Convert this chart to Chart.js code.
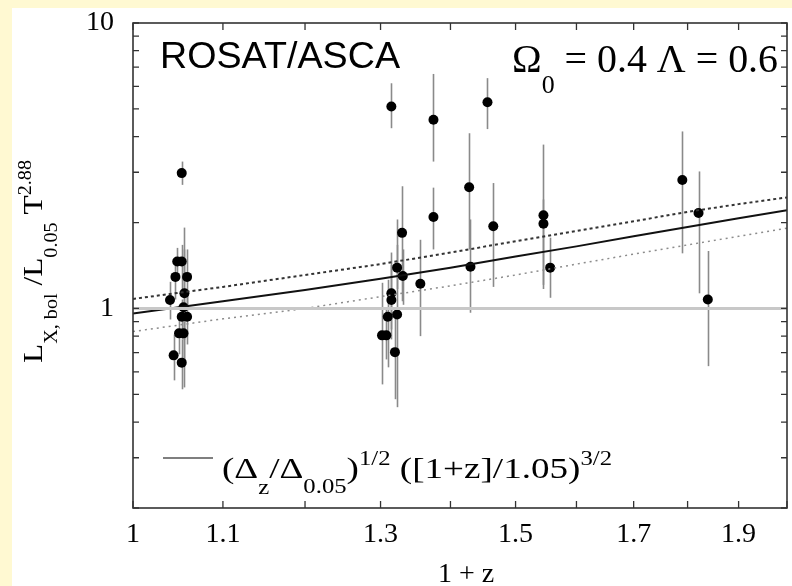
<!DOCTYPE html>
<html>
<head>
<meta charset="utf-8">
<script src="https://cdn.jsdelivr.net/npm/chart.js@4"></script>
<style>
  html, body { margin: 0; padding: 0; background: #FFF9D2; overflow: hidden; }
  #wrap { position: absolute; left: 0; top: 0; width: 792px; height: 586px; }
</style>
</head>
<body>
<div id="wrap"><canvas id="c" width="792" height="586"></canvas></div>
<script>
// ---- data ----
const pointZ = [1.053, 1.048, 1.053, 1.046, 1.059, 1.040, 1.056, 1.055, 1.053, 1.059, 1.050, 1.055, 1.044, 1.053,
                1.315, 1.375, 1.375, 1.330, 1.323, 1.331, 1.356, 1.315, 1.315, 1.310, 1.323, 1.302, 1.308, 1.320,
                1.456, 1.428, 1.465, 1.430, 1.545, 1.545, 1.556, 1.790, 1.821, 1.839];
const pointL = [2.98, 1.46, 1.46, 1.29, 1.29, 1.07, 1.13, 1.01, 0.935, 0.935, 0.818, 0.818, 0.685, 0.646,
                5.10, 4.58, 2.09, 1.84, 1.39, 1.30, 1.22, 1.13, 1.07, 0.935, 0.953, 0.805, 0.805, 0.703,
                5.28, 2.66, 1.94, 1.40, 2.12, 1.98, 1.39, 2.82, 2.16, 1.075];
const errLow  = [2.71, 1.29, 1.17, 1.075, 0.99, 0.915, 0.779, 0.529, 0.779, 0.748, 0.691, 0.637, 0.56, 0.521,
                 4.28, 3.27, 1.61, 1.06, 1.17, 1.03, 0.80, 0.845, 0.779, 0.622, 0.451, 0.542, 0.663, 0.481,
                 4.25, 1.61, 1.19, 0.966, 1.17, 1.21, 1.09, 1.56, 1.13, 0.628];
const errHigh = [3.27, 1.63, 1.67, 1.46, 1.61, 1.24, 1.61, 1.92, 1.075, 1.13, 0.953, 0.99, 0.811, 0.779,
                 6.15, 6.63, 2.65, 2.68, 1.67, 1.61, 1.74, 1.57, 1.42, 1.26, 2.05, 1.23, 1.0, 0.935,
                 6.41, 4.11, 2.75, 2.05, 3.75, 2.41, 1.77, 4.17, 3.02, 1.59];

const curveZ   = [1.0, 1.1, 1.2, 1.3, 1.4, 1.5, 1.6, 1.7, 1.8, 1.9, 2.0];
const fitMid   = [0.96, 1.06, 1.16, 1.27, 1.39, 1.52, 1.65, 1.79, 1.93, 2.07, 2.21];
const fitUpper = [1.08, 1.19, 1.31, 1.43, 1.57, 1.72, 1.87, 2.02, 2.18, 2.32, 2.45];
const fitLower = [0.83, 0.92, 1.00, 1.10, 1.20, 1.31, 1.43, 1.55, 1.67, 1.79, 1.91];
const refZ = [1.0, 2.0];
const refL = [1, 1];

const xTickValues = [1.0, 1.1, 1.2, 1.3, 1.4, 1.5, 1.6, 1.7, 1.8, 1.9, 2.0];
const xTickLabels = ['1', '1.1', '', '1.3', '', '1.5', '', '1.7', '', '1.9', ''];
const yTickValues = [0.2, 0.3, 0.4, 0.5, 0.6, 0.7, 0.8, 0.9, 1, 2, 3, 4, 5, 6, 7, 8, 9, 10];
const yTickLabels = ['', '', '', '', '', '', '', '', '1', '', '', '', '', '', '', '', '', '10'];

const pts = (xs, ys) => xs.map((x, i) => ({ x: x, y: ys[i] }));

const SERIF = "'Liberation Serif', 'DejaVu Serif', serif";
const SANS = "'Liberation Sans', Arial, sans-serif";

function drawRich(ctx, x, y, segs, targetW) {
  let widths = [], total = 0;
  segs.forEach(s => {
    ctx.font = s[1] + 'px ' + (s[3] || SERIF);
    const w = ctx.measureText(s[0]).width;
    widths.push(w); total += w;
  });
  const sx = targetW ? targetW / total : 1;
  ctx.save();
  ctx.translate(x, y);
  ctx.scale(sx, 1);
  ctx.textBaseline = 'alphabetic';
  ctx.textAlign = 'left';
  let cx = 0;
  segs.forEach((s, i) => {
    ctx.font = s[1] + 'px ' + (s[3] || SERIF);
    ctx.fillText(s[0], cx, s[2]);
    cx += widths[i];
  });
  ctx.restore();
}

const backdrop = {
  id: 'backdrop',
  beforeDraw(chart) {
    const ctx = chart.ctx;
    ctx.save();
    ctx.fillStyle = '#FFF9D2';
    ctx.fillRect(0, 0, chart.width, chart.height);
    ctx.fillStyle = '#FFFFFF';
    ctx.fillRect(12, 8, chart.width - 12, chart.height - 8);
    ctx.restore();
  }
};

const errorBars = {
  id: 'errorBars',
  beforeDatasetDraw(chart, args) {
    if (args.index !== 4) return;
    const ctx = chart.ctx, xs = chart.scales.x, ys = chart.scales.y;
    ctx.save();
    ctx.strokeStyle = '#8a8a8a';
    ctx.lineWidth = 1.6;
    pointZ.forEach((z, i) => {
      const px = Math.round(xs.getPixelForValue(z)) + 0.5;
      ctx.beginPath();
      ctx.moveTo(px, ys.getPixelForValue(errLow[i]));
      ctx.lineTo(px, ys.getPixelForValue(errHigh[i]));
      ctx.stroke();
    });
    ctx.restore();
  }
};

const frame = {
  id: 'frame',
  afterDraw(chart) {
    const ctx = chart.ctx, a = chart.chartArea, xs = chart.scales.x, ys = chart.scales.y;
    ctx.save();
    ctx.strokeStyle = '#333333';
    ctx.lineWidth = 1.6;
    ctx.strokeRect(a.left, a.top, a.right - a.left, a.bottom - a.top);
    ctx.lineWidth = 1.3;
    ctx.beginPath();
    xTickValues.forEach(v => {
      const px = xs.getPixelForValue(v);
      ctx.moveTo(px, a.bottom); ctx.lineTo(px, a.bottom - 7);
      ctx.moveTo(px, a.top); ctx.lineTo(px, a.top + 7);
    });
    yTickValues.forEach(v => {
      const py = ys.getPixelForValue(v);
      ctx.moveTo(a.left, py); ctx.lineTo(a.left + 6, py);
      ctx.moveTo(a.right, py); ctx.lineTo(a.right - 6, py);
    });
    ctx.stroke();

    ctx.fillStyle = '#000000';
    // panel labels
    drawRich(ctx, 160, 68, [['ROSAT/ASCA', 36, 0, SANS]], 240);
    drawRich(ctx, 512, 72, [['\u03A9', 40, 0], ['0', 26, 21], [' = 0.4 \u039B = 0.6', 40, 0]], 266);

    // legend line + formula
    ctx.strokeStyle = '#555555';
    ctx.lineWidth = 1.5;
    ctx.beginPath(); ctx.moveTo(163, 458); ctx.lineTo(213, 458); ctx.stroke();
    drawRich(ctx, 222, 478, [
      ['(\u0394', 30, 0], ['z', 20, 16], ['/\u0394', 30, 0], ['0.05', 20, 15], [')', 30, 0],
      ['1/2', 20, -13], [' ([1+z]/1.05)', 30, 0], ['3/2', 20, -13]
    ], 390);

    // x axis title
    ctx.font = '28px ' + SERIF;
    ctx.textAlign = 'center';
    ctx.textBaseline = 'alphabetic';
    ctx.fillText('1 + z', 466, 582);

    // y axis title (rotated)
    ctx.save();
    ctx.translate(42, 363);
    ctx.rotate(-Math.PI / 2);
    drawRich(ctx, 0, 0, [
      ['L', 28, 0], ['X, bol', 18, 15], [' /L', 28, 0], ['0.05', 18, 15], [' T', 28, 0], ['2.88', 18, -11]
    ], 203);
    ctx.restore();
    ctx.restore();
  }
};

new Chart(document.getElementById('c'), {
  type: 'scatter',
  data: {
    datasets: [
      { type: 'line', data: pts(refZ, refL), borderColor: '#c8c8c8', borderWidth: 3, pointRadius: 0, fill: false },
      { type: 'line', data: pts(curveZ, fitMid), borderColor: '#111111', borderWidth: 2, pointRadius: 0, fill: false, tension: 0 },
      { type: 'line', data: pts(curveZ, fitUpper), borderColor: '#333333', borderWidth: 2, borderDash: [3, 3], pointRadius: 0, fill: false, tension: 0 },
      { type: 'line', data: pts(curveZ, fitLower), borderColor: '#8c8c8c', borderWidth: 1.5, borderDash: [2, 4], pointRadius: 0, fill: false, tension: 0 },
      { type: 'scatter', data: pts(pointZ, pointL), backgroundColor: '#000000', borderColor: '#000000', pointRadius: 5, pointBorderWidth: 0 }
    ]
  },
  options: {
    responsive: false,
    animation: false,
    devicePixelRatio: 1,
    layout: { padding: { top: 23, right: 1, bottom: 0, left: 0 } },
    plugins: { legend: { display: false }, tooltip: { enabled: false } },
    scales: {
      x: {
        type: 'logarithmic', min: 1, max: 2,
        afterBuildTicks: s => { s.ticks = xTickValues.map(v => ({ value: v })); },
        afterFit: s => { s.height = 78; s.paddingLeft = 0; s.paddingRight = 0; },
        grid: { display: false, drawTicks: false },
        border: { display: false },
        ticks: {
          autoSkip: false, maxRotation: 0, padding: 10, color: '#000',
          font: { family: SERIF, size: 28 },
          callback: (v) => { const i = xTickValues.indexOf(v); return i >= 0 ? xTickLabels[i] : ''; }
        }
      },
      y: {
        type: 'logarithmic', min: 0.2, max: 10,
        afterBuildTicks: s => { s.ticks = yTickValues.map(v => ({ value: v })); },
        afterFit: s => { s.width = 133; s.paddingTop = 0; s.paddingBottom = 0; },
        grid: { display: false, drawTicks: false },
        border: { display: false },
        ticks: {
          autoSkip: false, padding: 19, color: '#000',
          font: { family: SERIF, size: 28 },
          callback: (v) => { const i = yTickValues.indexOf(v); return i >= 0 ? yTickLabels[i] : ''; }
        }
      }
    }
  },
  plugins: [backdrop, errorBars, frame]
});
</script>
</body>
</html>
